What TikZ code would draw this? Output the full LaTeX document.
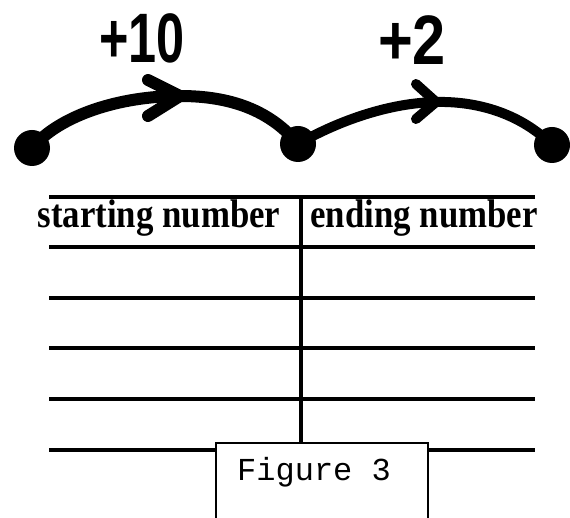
\documentclass[tikz,border=0pt]{standalone}
\usepackage{fontspec}
\setmainfont{Liberation Serif}
\newfontfamily\labelfont{Liberation Sans}
\newfontfamily\figfont{Liberation Mono}
\begin{document}
\begin{tikzpicture}[x=1pt,y=-1pt,
  dotnode/.style={circle, fill=black, minimum size=36pt, inner sep=0pt},
  arcone/.style={line width=12pt, line cap=round, line join=round},
  arctwo/.style={line width=10pt, line cap=round, line join=round},
  headline/.style={line width=4.2pt},
  rowline/.style={line width=3.3pt},
  jumplabel/.style={font=\labelfont\bfseries\fontsize{70}{70}\selectfont, anchor=base, inner sep=0pt},
  headtext/.style={font=\bfseries\fontsize{40}{40}\selectfont, anchor=base, inner sep=0pt},
  figbox/.style={draw=black, line width=1.3pt, fill=white}
]
\useasboundingbox (0,0) rectangle (570,518);
\clip (0,0) rectangle (570,518);

% jump labels
\node[jumplabel] (plusten) at (142,63) {\scalebox{0.72}[1]{+10}};
\node[jumplabel] (plustwo) at (412,65) {\scalebox{0.85}[1]{+2}};

% dots
\node[dotnode] (a) at (32,148) {};
\node[dotnode] (b) at (298,144) {};
\node[dotnode] (c) at (552,145) {};

% arc 1
\coordinate (m1) at (180,96);
\draw[arcone] (a.center) .. controls (60,115) and (120,96) .. (m1)
              .. controls (230,96) and (270,110) .. (b.center);
\draw[arcone] (148,80) -- (m1) -- (148,116);

% arc 2
\coordinate (m2) at (436,102);
\draw[arctwo] (b.center) .. controls (340,120) and (390,103) .. (m2)
              .. controls (480,101) and (522,115) .. (c.center);
\draw[arctwo] (416,84) -- (m2) -- (416,119);

% table
\coordinate (vtop) at (301,197);
\coordinate (vbot) at (301,445);
\draw[rowline] (vtop) -- (vbot);
\draw[headline] (49,197) -- (535,197);
\draw[headline] (49,247) -- (535,247);
\draw[rowline] (49,298) -- (535,298);
\draw[rowline] (49,348) -- (535,348);
\draw[rowline] (49,399) -- (535,399);
\draw[rowline] (49,450) -- (535,450);

\node[headtext] (start) at (159,228) {\scalebox{0.87}[1]{starting number}};
\node[headtext] (ending) at (424,228) {\scalebox{0.87}[1]{ending number}};

% figure box
\draw[figbox] (216,530) rectangle (428,443);
\node[font=\figfont\fontsize{32}{32}\selectfont, anchor=base west, inner sep=0pt] (figlabel) at (237,480) {Figure 3};
\end{tikzpicture}
\end{document}
